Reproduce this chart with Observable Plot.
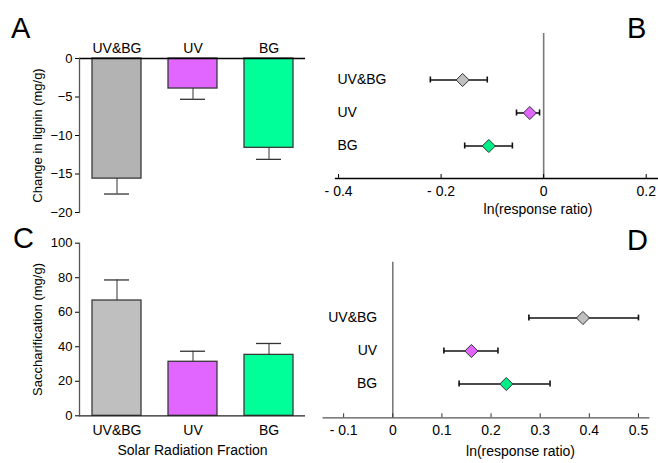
<!DOCTYPE html>
<html>
<head>
<meta charset="utf-8">
<script src="https://cdn.jsdelivr.net/npm/d3@7"></script>
<script src="https://cdn.jsdelivr.net/npm/@observablehq/plot@0.6"></script>
<style>
  body { margin: 0; background: #fff; }
  #wrap { position: relative; width: 658px; height: 463px; font-family: Arial, "Liberation Sans", sans-serif; }
  .panel { position: absolute; }
  .letter { position: absolute; font-size: 29px; line-height: 1; color: #000; }
</style>
</head>
<body>
<div id="wrap">
  <div class="panel" id="pA" style="left:0;top:0"></div>
  <div class="panel" id="pB" style="left:300px;top:0"></div>
  <div class="panel" id="pC" style="left:0;top:230px"></div>
  <div class="panel" id="pD" style="left:300px;top:230px"></div>
  <div class="letter" style="left:11px;top:14px">A</div>
  <div class="letter" style="left:627px;top:14px">B</div>
  <div class="letter" style="left:13px;top:224px">C</div>
  <div class="letter" style="left:627px;top:226px">D</div>
</div>
<script>
// ---- data ----
const categories = ["UV&BG", "UV", "BG"];
const barColors = ["#b3b3b3", "#e066ff", "#00ff99"];
const barColorsC = ["#bfbfbf", "#e066ff", "#00ff99"];
const dotColors = ["#c0c0c0", "#e066ff", "#00ee88"];

const ligninMean = [-15.6, -3.9, -11.6];
const ligninErr = [2.0, 1.4, 1.5];

const lignRR = [-0.158, -0.027, -0.107];
const lignRRlo = [-0.221, -0.053, -0.154];
const lignRRhi = [-0.110, -0.008, -0.061];

const saccMean = [66.8, 31.3, 35.3];
const saccErr = [11.9, 6.1, 6.6];

const saccRR = [0.387, 0.160, 0.231];
const saccRRlo = [0.277, 0.104, 0.135];
const saccRRhi = [0.500, 0.214, 0.320];

const ticksA = [-20, -15, -10, -5, 0];
const ticksB = [-0.4, -0.2, 0, 0.2];
const ticksC = [0, 20, 40, 60, 80, 100];
const ticksD = [-0.1, 0, 0.1, 0.2, 0.3, 0.4, 0.5];

// ---- helpers ----
const font = 'Arial, "Liberation Sans", sans-serif';
const baseStyle = {fontFamily: font, fontSize: "13px", color: "#000", background: "transparent", overflow: "visible"};
const fmtRR = d => d < 0 ? "- " + Math.abs(d) : String(d);

const dataA = categories.map((c, i) => ({cat: c, v: ligninMean[i], e: ligninErr[i], fill: barColors[i]}));
const dataC = categories.map((c, i) => ({cat: c, v: saccMean[i], e: saccErr[i], fill: barColorsC[i]}));
const dataB = categories.map((c, i) => ({cat: c, m: lignRR[i], lo: lignRRlo[i], hi: lignRRhi[i], fill: dotColors[i]}));
const dataD = categories.map((c, i) => ({cat: c, m: saccRR[i], lo: saccRRlo[i], hi: saccRRhi[i], fill: dotColors[i]}));

// ---- Panel A ----
const pA = Plot.plot({
  width: 320, height: 225,
  marginLeft: 79, marginTop: 58, marginBottom: 13, marginRight: 15,
  style: baseStyle,
  x: {domain: categories, paddingInner: 0.36, paddingOuter: 0.157},
  y: {domain: [-20, 0]},
  color: {type: "identity"},
  marks: [
    Plot.barY(dataA, {x: "cat", y: "v", fill: "fill", stroke: "#3a3a3a", strokeWidth: 1.3}),
    Plot.ruleX(dataA, {x: "cat", y1: "v", y2: d => d.v - d.e, stroke: "#333"}),
    Plot.tickY(dataA, {x: "cat", y: d => d.v - d.e, insetLeft: 12, insetRight: 12, stroke: "#333", strokeWidth: 1.3}),
    Plot.ruleY([0], {stroke: "#000", strokeWidth: 1.3}),
    Plot.frame({anchor: "left", stroke: "#555", strokeWidth: 1.3}),
    Plot.axisX({anchor: "top", tickSize: 0, tickPadding: 6, fontSize: 14, label: null}),
    Plot.axisY({ticks: ticksA, tickSize: 4, tickPadding: 3, fontSize: 13,
      label: "Change in lignin (mg/g)", labelAnchor: "center", labelArrow: "none", labelOffset: 47})
  ]
});
document.getElementById("pA").append(pA);

// ---- Panel B ----
const pB = Plot.plot({
  width: 358, height: 230,
  marginLeft: 35, marginRight: 0, marginTop: 33, marginBottom: 52,
  style: baseStyle,
  x: {domain: [-0.406, 0.224]},
  y: {type: "band", domain: categories, range: [62.5, 161.5], padding: 0, axis: null},
  color: {type: "identity"},
  marks: [
    Plot.ruleX([0], {stroke: "#7a7a7a", strokeWidth: 1.6}),
    Plot.frame({anchor: "bottom", stroke: "#000", strokeWidth: 1.3}),
    Plot.tickX(ticksB, {x: d => d, insetTop: 141, stroke: "#000"}),
    Plot.axisX({ticks: ticksB, tickFormat: fmtRR, tickSize: 0, tickPadding: 8, fontSize: 14, label: null}),
    Plot.text(categories, {y: d => d, text: d => d, frameAnchor: "left", textAnchor: "start", dx: 2, fontSize: 14}),
    Plot.ruleY(dataB, {y: "cat", x1: "lo", x2: "hi", stroke: "#111", strokeWidth: 1.6}),
    Plot.tickX(dataB, {y: "cat", x: "lo", insetTop: 13.5, insetBottom: 13.5, stroke: "#111", strokeWidth: 1.6}),
    Plot.tickX(dataB, {y: "cat", x: "hi", insetTop: 13.5, insetBottom: 13.5, stroke: "#111", strokeWidth: 1.6}),
    Plot.dot(dataB, {y: "cat", x: "m", symbol: "diamond2", r: 5.9, fill: "fill", stroke: "#333", strokeWidth: 1}),
    Plot.text(["ln(response ratio)"], {frameAnchor: "bottom", dx: 41, dy: 35, fontSize: 14})
  ]
});
document.getElementById("pB").append(pB);

// ---- Panel C ----
const pC = Plot.plot({
  width: 320, height: 233,
  marginLeft: 79, marginTop: 12.7, marginBottom: 47.7, marginRight: 15,
  style: baseStyle,
  x: {domain: categories, paddingInner: 0.36, paddingOuter: 0.157},
  y: {domain: [0, 100]},
  color: {type: "identity"},
  marks: [
    Plot.ruleX(dataC, {x: "cat", y1: "v", y2: d => d.v + d.e, stroke: "#333"}),
    Plot.tickY(dataC, {x: "cat", y: d => d.v + d.e, insetLeft: 12, insetRight: 12, stroke: "#333", strokeWidth: 1.3}),
    Plot.barY(dataC, {x: "cat", y: "v", fill: "fill", stroke: "#3a3a3a", strokeWidth: 1.3}),
    Plot.ruleY([0], {stroke: "#222", strokeWidth: 1.3}),
    Plot.frame({anchor: "left", stroke: "#555", strokeWidth: 1.3}),
    Plot.axisX({tickSize: 0, tickPadding: 9, fontSize: 14, label: null}),
    Plot.axisY({ticks: ticksC, tickSize: 4, tickPadding: 3, fontSize: 13,
      label: "Saccharification (mg/g)", labelAnchor: "center", labelArrow: "none", labelOffset: 47}),
    Plot.text(["Solar Radiation Fraction"], {frameAnchor: "bottom", dy: 39, fontSize: 14})
  ]
});
document.getElementById("pC").append(pC);

// ---- Panel D ----
const pD = Plot.plot({
  width: 358, height: 233,
  marginLeft: 22.7, marginRight: 9.7, marginTop: 31.7, marginBottom: 45.7,
  style: baseStyle,
  x: {domain: [-0.1416, 0.521]},
  y: {type: "band", domain: categories, range: [71.1, 170.6], padding: 0, axis: null},
  color: {type: "identity"},
  marks: [
    Plot.ruleX([0], {stroke: "#7a7a7a", strokeWidth: 1.6}),
    Plot.frame({anchor: "bottom", stroke: "#555", strokeWidth: 1.3}),
    Plot.tickX(ticksD, {x: d => d, insetTop: 151.6, stroke: "#333"}),
    Plot.axisX({ticks: ticksD, tickFormat: fmtRR, tickSize: 0, tickPadding: 7, fontSize: 14, label: null}),
    Plot.text(categories, {y: d => d, text: d => d, frameAnchor: "left", textAnchor: "end", dx: 54, fontSize: 14}),
    Plot.ruleY(dataD, {y: "cat", x1: "lo", x2: "hi", stroke: "#111", strokeWidth: 1.6}),
    Plot.tickX(dataD, {y: "cat", x: "lo", insetTop: 13.6, insetBottom: 13.6, stroke: "#111", strokeWidth: 1.6}),
    Plot.tickX(dataD, {y: "cat", x: "hi", insetTop: 13.6, insetBottom: 13.6, stroke: "#111", strokeWidth: 1.6}),
    Plot.dot(dataD, {y: "cat", x: "m", symbol: "diamond2", r: 5.9, fill: "fill", stroke: "#333", strokeWidth: 1}),
    Plot.text(["ln(response ratio)"], {frameAnchor: "bottom", dx: 34.5, dy: 38, fontSize: 14})
  ]
});
document.getElementById("pD").append(pD);
</script>
</body>
</html>
